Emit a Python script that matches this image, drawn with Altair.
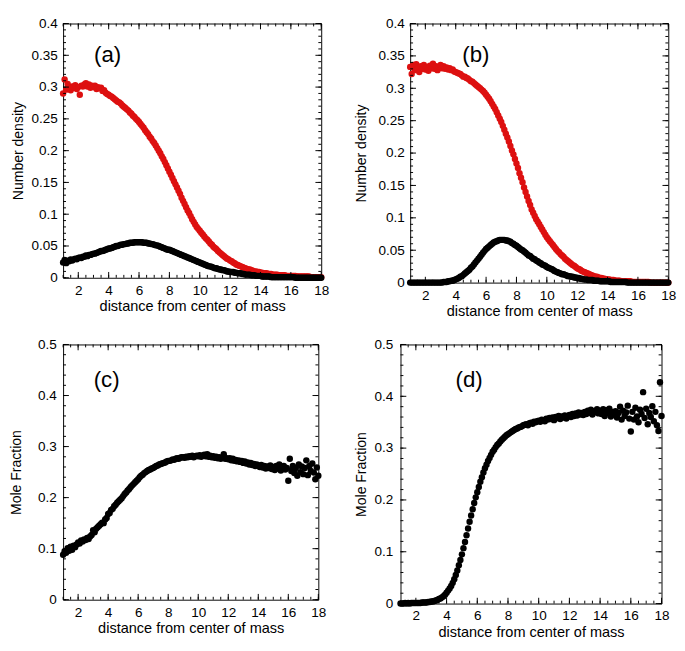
import altair as alt
import pandas as pd

# sampling grid of the radial distance (x)
X = [round(1 + 0.1 * i, 1) for i in range(171)]

# (a) number density, red series
A_RED = [
    0.290, 0.312, 0.296, 0.305, 0.298, 0.295, 0.301, 0.299, 0.303, 0.297,
    0.300, 0.288, 0.302, 0.301, 0.304, 0.306, 0.301, 0.304, 0.299, 0.302,
    0.300, 0.302, 0.297, 0.300, 0.298, 0.299, 0.294, 0.295, 0.291, 0.289,
    0.288, 0.286, 0.285, 0.283, 0.281, 0.279, 0.277, 0.276, 0.274, 0.271,
    0.269, 0.267, 0.265, 0.263, 0.260, 0.258, 0.255, 0.253, 0.250, 0.248,
    0.245, 0.242, 0.239, 0.236, 0.232, 0.229, 0.226, 0.222, 0.219, 0.215,
    0.212, 0.208, 0.204, 0.200, 0.196, 0.191, 0.187, 0.182, 0.177, 0.172,
    0.167, 0.162, 0.157, 0.152, 0.147, 0.142, 0.137, 0.132, 0.126, 0.121,
    0.116, 0.111, 0.106, 0.102, 0.097, 0.092, 0.088, 0.084, 0.080, 0.077,
    0.074, 0.071, 0.068, 0.065, 0.062, 0.060, 0.057, 0.054, 0.052, 0.049,
    0.047, 0.045, 0.042, 0.040, 0.038, 0.036, 0.034, 0.032, 0.030, 0.029,
    0.027, 0.026, 0.024, 0.023, 0.021, 0.020, 0.019, 0.018, 0.017, 0.016,
    0.015, 0.014, 0.013, 0.013, 0.012, 0.011, 0.010, 0.010, 0.009, 0.009,
    0.008, 0.008, 0.007, 0.007, 0.007, 0.006, 0.006, 0.006, 0.005, 0.005,
    0.005, 0.005, 0.004, 0.004, 0.004, 0.004, 0.004, 0.003, 0.003, 0.003,
    0.003, 0.003, 0.003, 0.003, 0.002, 0.002, 0.002, 0.002, 0.002, 0.002,
    0.002, 0.002, 0.002, 0.001, 0.001, 0.001, 0.001, 0.001, 0.001, 0.001,
    0.001,
]

# (a) number density, black series
A_BLACK = [
    0.024, 0.028, 0.023, 0.027, 0.026, 0.029, 0.027, 0.029, 0.030, 0.029,
    0.031, 0.032, 0.031, 0.033, 0.033, 0.035, 0.034, 0.036, 0.036, 0.037,
    0.038, 0.038, 0.039, 0.040, 0.041, 0.042, 0.042, 0.043, 0.044, 0.045,
    0.046, 0.046, 0.047, 0.048, 0.049, 0.050, 0.050, 0.051, 0.052, 0.052,
    0.053, 0.053, 0.054, 0.054, 0.055, 0.055, 0.055, 0.056, 0.056, 0.056,
    0.056, 0.056, 0.056, 0.055, 0.055, 0.055, 0.054, 0.054, 0.053, 0.053,
    0.052, 0.051, 0.051, 0.050, 0.049, 0.048, 0.047, 0.046, 0.045, 0.044,
    0.044, 0.043, 0.042, 0.041, 0.040, 0.039, 0.038, 0.037, 0.036, 0.035,
    0.034, 0.033, 0.032, 0.031, 0.030, 0.029, 0.028, 0.027, 0.026, 0.025,
    0.024, 0.023, 0.022, 0.021, 0.020, 0.019, 0.018, 0.018, 0.017, 0.016,
    0.015, 0.015, 0.014, 0.013, 0.013, 0.012, 0.012, 0.011, 0.010, 0.010,
    0.009, 0.009, 0.009, 0.008, 0.008, 0.007, 0.007, 0.007, 0.006, 0.006,
    0.005, 0.005, 0.005, 0.005, 0.004, 0.004, 0.004, 0.003, 0.003, 0.003,
    0.003, 0.002, 0.002, 0.002, 0.002, 0.002, 0.002, 0.001, 0.001, 0.001,
    0.001, 0.001, 0.001, 0.001, 0.001, 0.001, 0.001, 0.001, 0.001, 0.001,
    0.001, 0.001, 0.001, 0.000, 0.000, 0.000, 0.000, 0.000, 0.000, 0.000,
    0.000, 0.000, 0.000, 0.000, 0.000, 0.000, 0.000, 0.000, 0.000, 0.000,
    0.000,
]

# (b) number density, red series
B_RED = [
    0.333, 0.322, 0.336, 0.328, 0.337, 0.331, 0.325, 0.334, 0.330, 0.336,
    0.329, 0.333, 0.327, 0.335, 0.331, 0.338, 0.330, 0.334, 0.328, 0.333,
    0.336, 0.331, 0.334, 0.330, 0.332, 0.329, 0.331, 0.328, 0.329, 0.326,
    0.325, 0.324, 0.323, 0.322, 0.320, 0.318, 0.318, 0.316, 0.315, 0.313,
    0.311, 0.310, 0.308, 0.306, 0.304, 0.302, 0.300, 0.298, 0.296, 0.293,
    0.290, 0.287, 0.284, 0.280, 0.276, 0.272, 0.268, 0.263, 0.258, 0.253,
    0.248, 0.242, 0.236, 0.230, 0.224, 0.218, 0.211, 0.204, 0.198, 0.191,
    0.184, 0.177, 0.169, 0.162, 0.155, 0.147, 0.140, 0.133, 0.126, 0.120,
    0.113, 0.108, 0.103, 0.098, 0.094, 0.090, 0.086, 0.082, 0.078, 0.074,
    0.070, 0.067, 0.064, 0.061, 0.058, 0.055, 0.052, 0.049, 0.047, 0.044,
    0.042, 0.040, 0.037, 0.035, 0.033, 0.031, 0.029, 0.027, 0.026, 0.024,
    0.022, 0.021, 0.020, 0.018, 0.017, 0.016, 0.015, 0.014, 0.013, 0.012,
    0.011, 0.010, 0.009, 0.009, 0.008, 0.007, 0.007, 0.006, 0.006, 0.005,
    0.005, 0.005, 0.004, 0.004, 0.004, 0.003, 0.003, 0.003, 0.003, 0.002,
    0.002, 0.002, 0.002, 0.002, 0.002, 0.002, 0.001, 0.001, 0.001, 0.001,
    0.001, 0.001, 0.001, 0.001, 0.001, 0.001, 0.001, 0.001, 0.000, 0.000,
    0.000, 0.000, 0.000, 0.000, 0.000, 0.000, 0.000, 0.000, 0.000, 0.000,
    0.000,
]

# (b) number density, black series
B_BLACK = [
    0.000, 0.000, 0.000, 0.000, 0.000, 0.000, 0.000, 0.000, 0.000, 0.000,
    0.000, 0.000, 0.000, 0.000, 0.000, 0.000, 0.000, 0.000, 0.000, 0.000,
    0.000, 0.000, 0.001, 0.001, 0.001, 0.002, 0.002, 0.003, 0.003, 0.004,
    0.005, 0.006, 0.007, 0.009, 0.010, 0.012, 0.014, 0.016, 0.018, 0.020,
    0.023, 0.025, 0.028, 0.031, 0.034, 0.037, 0.040, 0.043, 0.046, 0.049,
    0.052, 0.054, 0.056, 0.058, 0.060, 0.062, 0.063, 0.064, 0.065, 0.066,
    0.066, 0.066, 0.066, 0.065, 0.065, 0.064, 0.063, 0.061, 0.060, 0.058,
    0.057, 0.055, 0.053, 0.051, 0.050, 0.048, 0.046, 0.044, 0.042, 0.041,
    0.039, 0.037, 0.036, 0.034, 0.033, 0.031, 0.030, 0.028, 0.027, 0.026,
    0.024, 0.023, 0.022, 0.021, 0.020, 0.018, 0.017, 0.016, 0.015, 0.014,
    0.013, 0.013, 0.012, 0.011, 0.010, 0.010, 0.009, 0.009, 0.008, 0.008,
    0.007, 0.007, 0.006, 0.006, 0.005, 0.005, 0.005, 0.004, 0.004, 0.004,
    0.004, 0.003, 0.003, 0.003, 0.003, 0.002, 0.002, 0.002, 0.002, 0.002,
    0.002, 0.002, 0.001, 0.001, 0.001, 0.001, 0.001, 0.001, 0.001, 0.001,
    0.001, 0.001, 0.001, 0.000, 0.000, 0.000, 0.000, 0.000, 0.000, 0.000,
    0.000, 0.000, 0.000, 0.000, 0.000, 0.000, 0.000, 0.000, 0.000, 0.000,
    0.000, 0.000, 0.000, 0.000, 0.000, 0.000, 0.000, 0.000, 0.000, 0.000,
    0.000,
]

# (c) mole fraction
C_FRAC = [
    0.088, 0.095, 0.092, 0.101, 0.096, 0.104, 0.098, 0.106, 0.103, 0.108,
    0.112, 0.110, 0.116, 0.114, 0.118, 0.117, 0.121, 0.119, 0.124, 0.127,
    0.136, 0.132, 0.139, 0.142, 0.145, 0.148, 0.151, 0.150, 0.157, 0.160,
    0.168, 0.170, 0.176, 0.178, 0.183, 0.186, 0.190, 0.193, 0.196, 0.199,
    0.203, 0.207, 0.210, 0.214, 0.217, 0.221, 0.224, 0.227, 0.230, 0.233,
    0.236, 0.240, 0.243, 0.245, 0.248, 0.250, 0.252, 0.254, 0.255, 0.257,
    0.258, 0.260, 0.262, 0.263, 0.265, 0.266, 0.267, 0.268, 0.269, 0.271,
    0.272, 0.272, 0.273, 0.275, 0.274, 0.276, 0.277, 0.276, 0.278, 0.279,
    0.279, 0.278, 0.280, 0.279, 0.281, 0.280, 0.282, 0.279, 0.281, 0.282,
    0.281, 0.283, 0.280, 0.282, 0.284, 0.281, 0.285, 0.280, 0.282, 0.279,
    0.281, 0.278, 0.280, 0.277, 0.279, 0.276, 0.278, 0.285, 0.276, 0.277,
    0.275, 0.277, 0.273, 0.276, 0.272, 0.274, 0.271, 0.273, 0.270, 0.272,
    0.268, 0.271, 0.267, 0.269, 0.265, 0.268, 0.264, 0.266, 0.262, 0.265,
    0.263, 0.260, 0.264, 0.259, 0.262, 0.257, 0.261, 0.258, 0.263, 0.256,
    0.260, 0.254, 0.262, 0.257, 0.265, 0.253, 0.259, 0.262, 0.255, 0.258,
    0.233, 0.276, 0.252, 0.262, 0.248, 0.258, 0.243, 0.265, 0.250, 0.261,
    0.246, 0.258, 0.273, 0.244, 0.262, 0.252, 0.267, 0.249, 0.236, 0.259,
    0.243,
]

# (d) mole fraction
D_FRAC = [
    0.000, 0.000, 0.000, 0.001, 0.000, 0.001, 0.000, 0.001, 0.001, 0.001,
    0.001, 0.001, 0.001, 0.001, 0.002, 0.002, 0.002, 0.002, 0.003, 0.003,
    0.004, 0.004, 0.005, 0.006, 0.007, 0.009, 0.010, 0.012, 0.014, 0.017,
    0.021, 0.025, 0.029, 0.034, 0.040, 0.047, 0.055, 0.064, 0.074, 0.084,
    0.095, 0.107, 0.119, 0.132, 0.145, 0.158, 0.170, 0.182, 0.194, 0.205,
    0.215, 0.225, 0.235, 0.244, 0.253, 0.261, 0.268, 0.275, 0.281, 0.287,
    0.293, 0.297, 0.302, 0.306, 0.309, 0.313, 0.316, 0.319, 0.322, 0.325,
    0.327, 0.329, 0.331, 0.333, 0.335, 0.337, 0.338, 0.340, 0.341, 0.342,
    0.344, 0.345, 0.346, 0.344, 0.348, 0.349, 0.347, 0.351, 0.350, 0.352,
    0.353, 0.351, 0.355, 0.354, 0.352, 0.357, 0.355, 0.358, 0.356, 0.359,
    0.354, 0.360, 0.358, 0.362, 0.356, 0.361, 0.359, 0.363, 0.357, 0.362,
    0.364, 0.360, 0.366, 0.362, 0.367, 0.363, 0.369, 0.365, 0.368, 0.364,
    0.370, 0.366, 0.372, 0.368, 0.374, 0.365, 0.371, 0.369, 0.375, 0.367,
    0.372, 0.366, 0.375, 0.362, 0.373, 0.368, 0.376, 0.361, 0.370, 0.365,
    0.371, 0.359, 0.368, 0.380, 0.355, 0.372, 0.362, 0.369, 0.382, 0.357,
    0.332, 0.370, 0.355, 0.378, 0.361, 0.350, 0.374, 0.366, 0.408, 0.358,
    0.376, 0.346, 0.368, 0.360, 0.381, 0.352, 0.370, 0.344, 0.333, 0.427,
    0.362,
]

# axis ticks
X_MAJOR = [2, 4, 6, 8, 10, 12, 14, 16, 18]
X_MINOR = [round(1 + 0.5 * i, 1) for i in range(35)]
Y_MAJOR_DENS = [0, 0.05, 0.1, 0.15, 0.2, 0.25, 0.3, 0.35, 0.4]
Y_MINOR_DENS = [round(0.01 * i, 2) for i in range(41)]
Y_MAJOR_FRAC = [0, 0.1, 0.2, 0.3, 0.4, 0.5]
Y_MINOR_FRAC = [round(0.02 * i, 2) for i in range(26)]

RED = "#dd1010"
BLACK = "#000000"
FONT = "Liberation Sans"
SERIES = ["red", "black"]
SERIES_COLORS = [RED, BLACK]


def panel(series, ymax, ymaj, ymin, ytitle, label, W, H, lab_xy,
          ylp, ytp):
    rows = []
    for name, vals in series:
        for xv, yv in zip(X, vals):
            rows.append({"x": xv, "y": yv, "s": name})
    df = pd.DataFrame(rows)
    xs = alt.Scale(domain=[1, 18], nice=False, zero=False)
    ys = alt.Scale(domain=[0, ymax], nice=False)

    pts = alt.Chart(df).mark_circle(size=44, opacity=1).encode(
        x=alt.X("x:Q", scale=xs, axis=alt.Axis(
            values=X_MAJOR, format="d", title="distance from center of mass",
            ticks=False, domain=False, grid=False, labelPadding=6,
            titlePadding=2, labelFlush=False, labelOverlap=False)),
        y=alt.Y("y:Q", scale=ys, axis=alt.Axis(
            values=ymaj, format="~g", title=ytitle, ticks=False,
            domain=False, grid=False, labelPadding=ylp, titlePadding=ytp,
            labelFlush=False, labelOverlap=False)),
        color=alt.Color("s:N", scale=alt.Scale(domain=SERIES,
                                               range=SERIES_COLORS),
                        legend=None),
    )

    layers = [pts]
    # inward ticks on the four edges of the frame
    for vals, size in ((X_MAJOR, 6), (X_MINOR, 3)):
        base = alt.Chart(pd.DataFrame({"x": vals})).mark_rule(
            color="black", strokeWidth=1)
        layers.append(base.encode(x=alt.X("x:Q", scale=xs, axis=None),
                                  y=alt.value(H), y2=alt.value(H - size)))
        layers.append(base.encode(x=alt.X("x:Q", scale=xs, axis=None),
                                  y=alt.value(0), y2=alt.value(size)))
    for vals, size in ((ymaj, 6), (ymin, 3)):
        base = alt.Chart(pd.DataFrame({"y": vals})).mark_rule(
            color="black", strokeWidth=1)
        layers.append(base.encode(y=alt.Y("y:Q", scale=ys, axis=None),
                                  x=alt.value(0), x2=alt.value(size)))
        layers.append(base.encode(y=alt.Y("y:Q", scale=ys, axis=None),
                                  x=alt.value(W), x2=alt.value(W - size)))

    txt = alt.Chart(pd.DataFrame({"t": [label]})).mark_text(
        font=FONT, fontSize=23, align="center", baseline="middle",
        color="black").encode(
        text="t:N", x=alt.value(lab_xy[0]), y=alt.value(lab_xy[1]))
    layers.append(txt)

    return alt.layer(*layers).resolve_axis(
        x="independent", y="independent").properties(width=W, height=H)


pa = panel([("red", A_RED), ("black", A_BLACK)], 0.4,
           Y_MAJOR_DENS, Y_MINOR_DENS, "Number density", "(a)", 267, 263,
           (46, 33), 6, 6)
pb = panel([("red", B_RED), ("black", B_BLACK)], 0.4,
           Y_MAJOR_DENS, Y_MINOR_DENS, "Number density", "(b)", 267, 268,
           (68, 33), 6, 10)
pc = panel([("black", C_FRAC)], 0.5, Y_MAJOR_FRAC, Y_MINOR_FRAC,
           "Mole Fraction", "(c)", 264, 264, (45, 37), 7, 15)
pd_ = panel([("black", D_FRAC)], 0.5, Y_MAJOR_FRAC, Y_MINOR_FRAC,
            "Mole Fraction", "(d)", 270, 268, (71, 37), 8, 6)

chart = alt.vconcat(
    alt.hconcat(pa, pb, spacing=24),
    alt.hconcat(pc, pd_, spacing=27),
    spacing=18,
).properties(
    padding={"top": -3, "left": 0, "right": 0, "bottom": 0}
).configure_view(
    stroke="black", strokeWidth=1
).configure_axis(
    labelFont=FONT, labelFontSize=14, labelColor="black",
    titleFont=FONT, titleFontSize=15, titleColor="black",
    titleFontWeight="normal",
).configure_axisY(titleFontSize=14.5)

chart.save("out.html", embed_options={"renderer": "svg", "actions": False})
